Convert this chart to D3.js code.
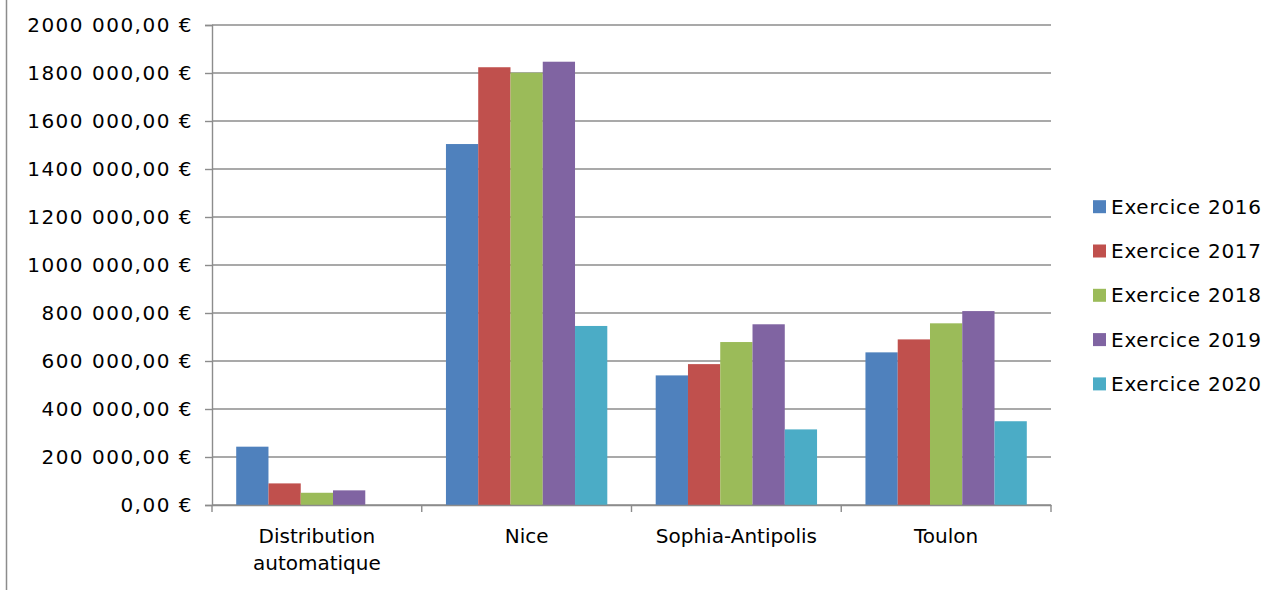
<!DOCTYPE html>
<html>
<head>
<meta charset="utf-8">
<script src="https://cdn.jsdelivr.net/npm/d3@7"></script>
<style>
  html, body { margin: 0; padding: 0; background: #fff; }
  svg { display: block; }
  text { font-family: "DejaVu Sans", "Noto Sans", sans-serif; fill: #000; }
</style>
</head>
<body>
<svg id="chart" width="1268" height="590"></svg>
<script>
// Sites (category axis)
const categories = ["Distribution automatique", "Nice", "Sophia-Antipolis", "Toulon"];
// One series per fiscal year
const seriesNames = ["Exercice 2016", "Exercice 2017", "Exercice 2018", "Exercice 2019", "Exercice 2020"];
const ex2016 = [243000, 1504000, 540000, 636000];
const ex2017 = [90000, 1824000, 587000, 690000];
const ex2018 = [51000, 1801000, 679000, 757000];
const ex2019 = [61000, 1847000, 753000, 808000];
const ex2020 = [0, 746000, 315000, 349000];
const yTicks = [0, 200000, 400000, 600000, 800000, 1000000, 1200000, 1400000, 1600000, 1800000, 2000000];
const colors = ["#4F81BD", "#C0504D", "#9BBB59", "#8064A2", "#4BACC6"];

const seriesValues = [ex2016, ex2017, ex2018, ex2019, ex2020];

const svg = d3.select("#chart");
const plot = { left: 212, right: 1051, top: 25, bottom: 505 };
const gridColor = "#8c8c8c";
const fontFamily = "'DejaVu Sans', 'Noto Sans', sans-serif";

// Outer frame edge on the left
svg.append("line")
  .attr("x1", 6.5).attr("x2", 6.5).attr("y1", 0).attr("y2", 590)
  .attr("stroke", gridColor).attr("stroke-width", 1.5);

const y = d3.scaleLinear().domain([0, 2000000]).range([plot.bottom, plot.top]);
const x0 = d3.scaleBand().domain(categories).range([plot.left, plot.right]);
// gap of 1.5 bar widths between groups
const groupPad = 0.75 / 6.5;
const x1 = d3.scaleBand().domain(seriesNames)
  .range([x0.bandwidth() * groupPad, x0.bandwidth() * (1 - groupPad)]);

const fmt = v => {
  const s = d3.format(",.2f")(v).replace(/,/g, " ").replace(".", ",");
  return s.replace(/^(\d) (\d{3}) /, "$1$2 ") + " €";
};

// Horizontal gridlines
svg.append("g").selectAll("line").data(yTicks).join("line")
  .attr("x1", plot.left).attr("x2", plot.right)
  .attr("y1", d => y(d)).attr("y2", d => y(d))
  .attr("stroke", gridColor).attr("stroke-width", 1.4);

// Y axis
const yAxis = svg.append("g")
  .attr("transform", `translate(${plot.left},0)`)
  .call(d3.axisLeft(y).tickValues(yTicks).tickSize(7).tickPadding(12).tickFormat(fmt));
yAxis.select(".domain").attr("stroke", gridColor).attr("stroke-width", 1.4);
yAxis.selectAll(".tick line").attr("stroke", gridColor).attr("stroke-width", 1.4);
yAxis.selectAll("text")
  .attr("font-size", 20)
  .attr("font-family", fontFamily)
  .attr("letter-spacing", 1.5)
  .attr("fill", "#000");

// Bars
const groups = svg.append("g").selectAll("g").data(categories).join("g")
  .attr("transform", c => `translate(${x0(c)},0)`);
groups.selectAll("rect")
  .data((c, ci) => seriesNames.map((s, si) => ({ s, si, v: seriesValues[si][ci] })))
  .join("rect")
  .filter(d => d.v > 0)
  .attr("x", d => x1(d.s))
  .attr("width", x1.bandwidth())
  .attr("y", d => y(d.v))
  .attr("height", d => y(0) - y(d.v))
  .attr("fill", d => colors[d.si]);

// X axis
const xAxis = svg.append("g")
  .attr("transform", `translate(0,${plot.bottom})`)
  .call(d3.axisBottom(x0).tickSize(0).tickPadding(0).tickFormat(""));
xAxis.select(".domain").attr("stroke", gridColor).attr("stroke-width", 1.4);
// tick marks between categories
const bounds = [plot.left, ...categories.map(c => x0(c) + x0.bandwidth())];
svg.append("g").selectAll("line").data(bounds).join("line")
  .attr("x1", d => d).attr("x2", d => d)
  .attr("y1", plot.bottom).attr("y2", plot.bottom + 7)
  .attr("stroke", gridColor).attr("stroke-width", 1.4);

// Category labels (wrapped on two lines where needed)
const labelLines = {
  "Distribution automatique": ["Distribution", "automatique"]
};
svg.append("g").selectAll("text").data(categories).join("text")
  .attr("x", c => x0(c) + x0.bandwidth() / 2)
  .attr("y", 543)
  .attr("text-anchor", "middle")
  .attr("font-size", 20)
  .each(function (c) {
    const lines = labelLines[c] || [c];
    d3.select(this).selectAll("tspan").data(lines).join("tspan")
      .attr("x", x0(c) + x0.bandwidth() / 2)
      .attr("dy", (d, i) => i === 0 ? 0 : 27)
      .text(d => d);
  });

// Legend
const legend = svg.append("g").selectAll("g").data(seriesNames).join("g")
  .attr("transform", (d, i) => `translate(1093,${206.7 + i * 44.3})`);
legend.append("rect")
  .attr("x", 0).attr("y", -6.5).attr("width", 13).attr("height", 13)
  .attr("fill", (d, i) => colors[i]);
legend.append("text")
  .attr("x", 18).attr("y", 0).attr("dy", "0.35em")
  .attr("font-size", 20)
  .attr("letter-spacing", 0.75)
  .text(d => d);
</script>
</body>
</html>
